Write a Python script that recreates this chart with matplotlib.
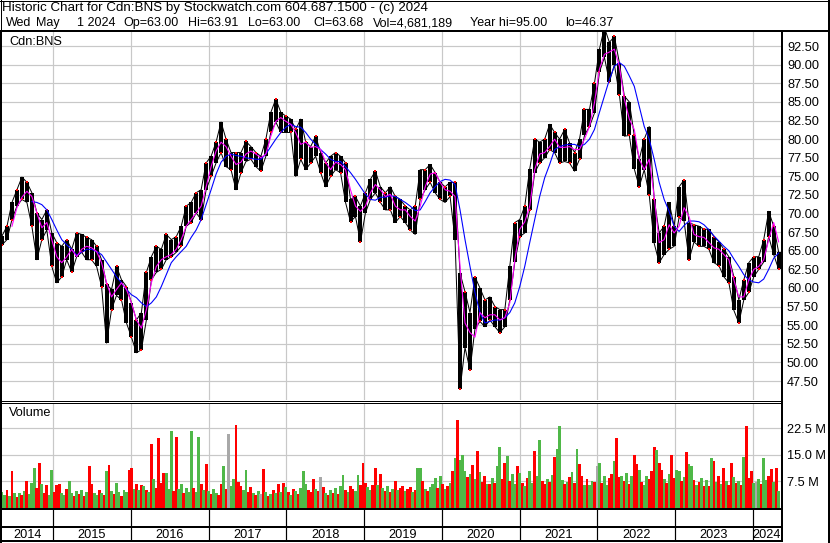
import matplotlib
matplotlib.use("Agg")
import matplotlib.pyplot as plt
from matplotlib.lines import Line2D
import numpy as np
import pandas as pd

plt.rcParams['font.family'] = ['Liberation Sans', 'DejaVu Sans']

W, H = 830, 543

# price samples, roughly every 3.5 weeks (high / low of the daily bars)
price_high = [
    67.0, 68.3, 71.5, 73.2, 74.9, 74.2, 72.8, 70.1, 69.2, 70.5,
    67.4, 66.1, 65.6, 66.5, 65.2, 67.4, 67.2, 66.8, 66.5, 65.6,
    63.8, 60.5, 59.8, 62.9, 61.1, 60.2, 58.0, 55.7, 56.7, 62.1,
    64.2, 65.6, 65.2, 67.2, 66.5, 66.9, 68.3, 71.0, 71.5, 72.8,
    73.2, 76.8, 77.7, 79.6, 82.3, 80.0, 78.2, 78.2, 78.2, 79.7,
    79.0, 78.2, 77.7, 80.0, 83.6, 85.4, 83.6, 83.1, 82.7, 81.3,
    82.7, 79.6, 79.0, 80.4, 78.2, 76.8, 77.7, 78.2, 77.7, 76.8,
    71.9, 72.3, 71.0, 72.8, 74.6, 75.7, 73.6, 72.8, 73.6, 72.3,
    71.9, 71.0, 70.5, 71.0, 75.9, 75.9, 76.6, 75.5, 74.2, 73.6,
    74.2, 74.2, 62.0, 59.5, 56.7, 61.5, 60.0, 58.4, 58.8, 57.5,
    57.1, 57.1, 63.0, 68.8, 69.2, 71.0, 76.0, 80.0, 79.6, 80.0,
    82.0, 80.9, 80.0, 81.3, 79.5, 78.2, 80.0, 84.0, 84.0, 87.5,
    92.1, 95.0, 93.0, 93.8, 90.3, 85.8, 85.0, 80.5, 77.3, 80.0,
    81.7, 72.0, 67.4, 68.3, 71.5, 68.3, 73.6, 74.5, 68.8, 68.5,
    68.3, 67.9, 67.9, 66.9, 66.2, 65.2, 64.2, 61.5, 58.4, 61.1,
    63.4, 64.2, 64.2, 66.5, 70.3, 68.3, 64.8,
]
price_low = [
    65.8, 66.5, 69.2, 71.0, 71.9, 71.5, 68.3, 63.8, 66.5, 67.8,
    62.9, 60.7, 61.5, 63.8, 62.1, 64.2, 64.8, 63.8, 63.8, 62.9,
    60.2, 52.6, 57.1, 59.0, 58.4, 55.3, 53.4, 51.3, 51.7, 55.7,
    61.1, 62.1, 62.5, 63.8, 64.2, 64.8, 65.6, 68.3, 68.8, 70.1,
    69.2, 73.2, 75.0, 76.8, 78.2, 76.3, 75.9, 73.2, 75.5, 77.0,
    77.3, 76.3, 75.7, 77.7, 80.9, 82.3, 80.9, 80.9, 80.9, 75.0,
    77.3, 75.9, 76.8, 77.7, 75.5, 73.6, 75.0, 75.9, 75.5, 71.5,
    68.9, 69.6, 66.2, 70.1, 71.9, 72.8, 71.5, 70.5, 70.5, 68.8,
    69.6, 68.8, 67.8, 67.2, 71.9, 73.2, 74.2, 72.8, 71.9, 71.5,
    72.3, 66.5, 46.4, 52.0, 49.0, 54.5, 55.5, 54.8, 55.7, 54.8,
    54.0, 54.8, 58.4, 63.5, 66.9, 67.4, 70.5, 75.5, 76.8, 77.5,
    78.6, 78.2, 76.8, 77.0, 76.8, 75.7, 77.3, 80.5, 81.7, 83.5,
    89.0, 91.0, 87.7, 90.0, 86.0, 80.4, 80.5, 76.0, 73.6, 75.9,
    72.5, 66.0, 63.4, 64.5, 65.2, 65.6, 69.5, 69.0, 63.8, 66.2,
    65.6, 65.6, 65.2, 63.4, 63.0, 61.5, 60.7, 57.0, 55.3, 58.4,
    59.4, 61.5, 62.5, 63.5, 66.9, 64.5, 62.5,
]

# magenta (short) moving average, starts a little after the first bar
ma_short = [
    68.3, 70.8, 72.2, 73.0, 72.3, 70.1, 68.1, 68.8, 66.5, 64.2,
    63.4, 64.2, 65.2, 64.2, 65.2, 65.6, 65.4, 64.9, 63.4, 60.7,
    58.8, 59.8, 60.7, 59.8, 58.0, 55.7, 54.6, 57.1, 60.7, 62.9,
    63.8, 64.2, 64.5, 65.2, 66.5, 68.3, 69.2, 70.1,
    71.0, 73.6, 76.3, 78.4, 79.6, 79.0, 77.7, 76.6, 76.9, 78.0,
    78.4, 78.0, 77.5, 78.0, 80.4, 82.4, 82.9, 82.4, 82.0, 80.9,
    79.3, 79.6, 78.9, 79.0, 78.6, 76.9, 75.9, 76.9, 76.6, 75.9,
    73.2, 71.0, 70.3, 71.0, 72.8, 73.9, 73.2, 72.3, 72.6,
    71.0, 70.5, 70.5, 69.6, 69.0, 71.0, 73.6, 75.3, 75.5, 74.2,
    73.2, 73.0, 72.3, 62.9, 55.3, 54.0, 53.4, 56.7, 56.0, 56.4,
    56.4, 55.7, 56.0, 58.0, 63.8, 67.9, 68.9, 71.0, 75.9, 78.0,
    78.2,
    79.0, 80.0, 78.9, 78.9, 79.0, 78.6, 78.6, 80.0, 81.7, 84.9,
    89.4, 91.4, 91.7, 92.1, 89.8, 85.4, 82.7, 81.3, 77.3, 75.9,
    77.3, 72.3, 66.1, 66.5, 68.5, 67.4, 68.3, 70.8, 69.6, 67.2,
    66.9, 66.8, 66.1, 65.4, 65.2, 64.5, 63.8, 61.1, 58.8, 58.8,
    61.1, 62.5, 62.9, 63.8, 66.5, 68.8, 66.2,
]

# blue (long) moving average
ma_long = [
    71.6, 71.5, 71.2, 70.5, 69.2, 67.8, 66.5, 65.8, 65.2, 64.4,
    64.8, 65.2, 65.2, 64.9, 64.5, 63.5, 62.5, 61.5, 60.7, 59.8,
    59.1, 58.7, 58.0, 57.5, 58.0, 58.8, 60.2, 61.8, 63.4, 64.2,
    64.9, 65.6, 66.8, 67.8, 69.2, 71.2, 73.2, 75.3, 76.9, 77.7,
    78.0, 77.8, 77.7, 77.5, 77.4, 77.3, 77.3, 78.0, 79.0, 80.0,
    80.9, 81.6, 82.0, 81.7, 81.6, 80.9, 80.0, 79.3, 78.6, 78.0,
    77.3, 77.0, 77.0, 76.3, 75.5, 74.6, 73.6, 72.6, 71.9, 71.8,
    72.2, 72.2, 72.4, 72.3, 71.9, 71.5, 71.0, 70.4, 70.5, 71.6,
    72.8, 73.6, 74.3, 74.6, 74.5, 73.9, 70.5, 66.5, 62.9, 59.4,
    56.7, 55.3, 55.5, 55.7, 55.7, 56.0, 56.7, 58.0, 60.2, 62.9,
    66.1, 69.2, 72.3, 74.8, 76.6, 78.6, 79.0, 79.2, 79.3, 79.3,
    79.0, 79.3, 80.0, 81.3, 83.6, 85.8, 88.0, 89.8, 90.3, 89.8,
    88.5, 87.1, 84.4, 81.7, 80.0, 77.3, 74.2, 71.9, 70.3, 68.3,
    67.6, 68.4, 69.0, 69.0, 68.9, 68.5, 67.8, 67.0, 66.3, 65.6,
    65.0, 63.9, 62.9, 61.8, 61.1, 60.8, 60.7, 61.2, 62.5, 64.0,
    64.7,
]

# daily volume, sampled (millions) and bar colours (r = down, g = up, k = unchanged)
volume = [
    4.5, 3.5, 5.0, 3.2, 10.3, 4.0, 3.0, 4.2, 3.6, 4.8, 7.5, 3.8, 7.0, 11.2, 5.5, 12.5, 6.6, 4.0, 6.5, 3.5, 10.6, 4.4, 6.4, 6.6, 4.0,
    3.6, 5.2, 7.5, 4.1, 3.3, 4.6, 3.9, 5.0, 3.4, 4.3, 11.7, 6.6, 4.0, 3.5, 5.1, 4.2, 3.6, 10.3, 12.0, 4.8, 3.9, 7.1, 4.4, 3.2, 5.0,
    4.5, 10.6, 11.1, 5.2, 6.8, 4.9, 6.4, 6.2, 5.0, 4.4, 18.0, 8.2, 5.6, 19.8, 7.1, 9.7, 9.9, 5.3, 21.6, 4.6, 19.9, 5.2, 6.6, 4.0, 5.5,
    4.3, 21.6, 5.6, 4.5, 19.9, 6.8, 5.0, 12.3, 4.6, 3.8, 5.2, 4.0, 3.6, 6.6, 11.7, 5.4, 20.7, 6.0, 8.2, 23.5, 7.3, 6.2, 5.1, 10.6, 4.5,
    5.8, 4.2, 3.6, 4.7, 3.9, 10.9, 4.4, 3.2, 3.9, 5.0, 4.1, 6.6, 4.4, 7.1, 5.9, 4.3, 3.7, 5.2, 4.6, 3.9, 5.5, 10.3, 6.8, 5.0, 4.4,
    8.1, 5.3, 4.6, 8.7, 5.8, 4.1, 3.5, 4.9, 4.2, 5.6, 3.8, 6.2, 9.3, 5.0, 4.4, 6.1, 5.2, 4.6, 9.3, 6.4, 12.5, 7.0, 5.8, 4.9, 6.3,
    11.1, 6.5, 9.4, 5.5, 4.8, 6.0, 4.4, 5.2, 7.5, 4.9, 5.6, 6.1, 4.7, 5.4, 5.8, 4.5, 5.0, 11.1, 11.1, 7.5, 5.3, 4.6, 5.8, 6.6, 8.5,
    5.5, 9.0, 6.6, 5.4, 6.2, 7.0, 10.3, 14.0, 24.8, 13.4, 14.8, 10.3, 8.7, 9.5, 12.0, 8.0, 15.9, 10.0, 7.2, 9.0, 6.8, 6.6, 8.4, 7.0, 11.8,
    17.2, 8.0, 12.5, 14.6, 7.6, 9.5, 6.8, 11.8, 9.7, 7.0, 6.2, 8.3, 10.3, 6.9, 15.9, 8.8, 19.1, 7.4, 6.6, 8.0, 7.3, 9.2, 14.4, 16.7, 23.0,
    7.8, 6.6, 7.3, 8.6, 10.0, 7.1, 16.7, 12.3, 9.0, 6.5, 8.1, 6.3, 7.6, 7.3, 11.8, 12.5, 7.0, 8.8, 6.4, 8.3, 9.6, 13.2, 19.8, 8.7, 9.0,
    7.5, 9.8, 6.8, 8.9, 15.0, 12.2, 10.6, 7.2, 6.4, 9.0, 8.2, 10.4, 17.2, 16.3, 12.5, 10.6, 8.0, 7.1, 9.5, 15.0, 8.4, 10.6, 10.3, 7.5, 8.7,
    15.6, 12.2, 11.8, 7.8, 6.4, 7.3, 8.5, 6.2, 7.7, 6.0, 14.1, 13.1, 7.2, 9.0, 6.6, 11.3, 7.4, 6.3, 12.5, 8.7, 6.9, 7.6, 6.5, 14.4, 23.0,
    8.4, 10.3, 7.0, 7.3, 8.2, 6.6, 14.1, 7.9, 9.0, 10.9, 7.2, 11.3, 4.6,
]
vol_colors = (
    "ggrgrgrgrgrgggrrgrrggrrrg"
    "grggrgrgrgrrggrgrgrgrggrg"
    "grrgrgrgrgrgrrrrgggrrggrg"
    "ggrggrgrgrggrrgrkggrrrggr"
    "rgrgkrgrgrgrgrgrgrgrgggrr"
    "rgrkrgrgrgrggrgrrggrrrggr"
    "rgrgrgrgrgrrgrrgrggrgrggg"
    "rgrgrgrgrgggrgrgrgrrgrgrg"
    "grrgrggrgrgrggrggrrgrgrgg"
    "grgrgrgrrgrggrkgrggrrgrrg"
    "rgrgrrgrggrrrgrrgrgrrggrg"
    "rggrgrgrgrgrgrgrgrrgrgrgr"
    "rrgkgrggrrgrg"
)

price_ticks = [47.5 + 2.5 * i for i in range(19)]
vol_ticks = [7.5, 15.0, 22.5]
year_labels = [str(y) for y in range(2014, 2025)]

title = "Historic Chart for Cdn:BNS by Stockwatch.com 604.687.1500 - (c) 2024"
quote_fields = ["Wed", "May", "1 2024", "Op=63.00", "Hi=63.91", "Lo=63.00",
                "Cl=63.68", "Vol=4,681,189", "Year hi=95.00", "lo=46.37"]
quote_x = [6, 36, 77, 123, 188, 248, 313, 373, 470, 565]

start, end = pd.Timestamp("2014-05-06"), pd.Timestamp("2024-05-01")
x_lo, x_hi = pd.Timestamp("2014-05-06"), pd.Timestamp("2024-05-12")
dates = pd.date_range(start, end, periods=len(price_high))
vdates = pd.date_range(start, end, periods=len(volume))
short_vals = [np.nan] * (len(dates) - len(ma_short)) + ma_short
long_vals = [np.nan] * (len(dates) - len(ma_long)) + ma_long
year_edges = [pd.Timestamp(f"{y}-01-01") for y in range(2015, 2025)]

GRID = "#c8c8c8"
RED, GREEN, GREY = "#ff0000", "#4fb848", "#a8a8a8"
PX = 72 / 100  # one pixel in points


def rect(x0, y0, x1, y1):
    return [x0 / W, 1 - y1 / H, (x1 - x0) / W, (y1 - y0) / H]


def fline(xs, ys, lw=1):
    fig.add_artist(Line2D([x / W for x in xs], [1 - y / H for y in ys],
                          transform=fig.transFigure, color="black", lw=lw * PX))


fig = plt.figure(figsize=(W / 100, H / 100), dpi=100)
fig.patch.set_facecolor("white")

# ---- price panel
ax = fig.add_axes(rect(2, 32, 781, 400))
ax.vlines(dates, price_low, price_high, color="black", lw=4.0 * PX, zorder=3)
ax.plot(dates, price_high, color="black", lw=1 * PX, zorder=3)
ax.plot(dates, price_low, color="black", lw=1 * PX, zorder=3)
ax.plot(dates[::2], np.array(price_low)[::2], "s", color=RED, ms=1.6, mew=0, zorder=4)
ax.plot(dates[1::2], np.array(price_high)[1::2], "s", color=RED, ms=1.6, mew=0, zorder=4)
ax.plot(dates, long_vals, color="#0000ff", lw=1.1 * PX, zorder=5)
ax.plot(dates, short_vals, color="#ff00ff", lw=1.1 * PX, zorder=6)
ax.set_xlim(x_lo, x_hi)
ax.set_ylim(44.95, 94.4)
ax.set_yticks(price_ticks)
ax.set_yticklabels([f"{v:.2f}" for v in price_ticks])
ax.yaxis.tick_right()
ax.tick_params(axis="y", length=0, pad=6 * PX, labelsize=9.2)
ax.set_xticks(year_edges)
ax.tick_params(axis="x", length=0, labelbottom=False)
ax.grid(True, color=GRID, lw=1.2 * PX)
ax.set_axisbelow(True)
for s in ax.spines.values():
    s.set_visible(False)
ax.text(7 / 779, 1 - 10 / 368, "Cdn:BNS", transform=ax.transAxes, fontsize=9.2, va="center")

# ---- volume panel
av = fig.add_axes(rect(2, 403, 781, 509))
cmap = {"r": RED, "g": GREEN, "k": GREY}
span = (end - start) / (len(volume) - 1)
av.bar(vdates, volume, width=span * 1.15, color=[cmap[c] for c in vol_colors],
       lw=0, antialiased=False, zorder=3)
av.set_xlim(x_lo, x_hi)
av.set_ylim(-0.4, 29.6)
av.set_yticks(vol_ticks)
av.set_yticklabels([f"{v:.1f} M" for v in vol_ticks])
av.yaxis.tick_right()
av.tick_params(axis="y", length=0, pad=6 * PX, labelsize=9.2)
av.set_xticks(year_edges)
av.tick_params(axis="x", length=0, labelbottom=False)
av.grid(True, color=GRID, lw=1.2 * PX)
av.set_axisbelow(True)
for s in av.spines.values():
    s.set_visible(False)
av.text(7 / 779, 1 - 10 / 106, "Volume", transform=av.transAxes, fontsize=9.2, va="center")

# ---- date strip
ad = fig.add_axes(rect(2, 509, 781, 541))
ad.set_xlim(x_lo, x_hi)
ad.set_ylim(0, 1)
ad.axis("off")
for e in year_edges:
    ad.axvline(e, color="black", lw=1.2 * PX)
bounds = [x_lo] + year_edges + [x_hi]
for lab, a, b in zip(year_labels, bounds[:-1], bounds[1:]):
    ad.text(a + (b - a) / 2, 0.2, lab, ha="center", va="center", fontsize=9.2)

# ---- frame lines
fline([0, 830], [0.5, 0.5], 1)
fline([0, 830], [31, 31], 2)
fline([0.5, 0.5], [0, 31], 1)
fline([1, 1], [31, 543], 2)
fline([781.5, 781.5], [31, 541], 2)
fline([828.5, 828.5], [0, 543], 2)
fline([0, 782], [400.5, 400.5], 1)
fline([0, 782], [402.5, 402.5], 1)
fline([0, 782], [509, 509], 2)
fline([0, 782], [527, 527], 2)
fline([0, 782], [541, 541], 2)

# ---- header
fig.text(2 / W, 1 - 8.5 / H, title, fontsize=9.6, va="center")
for txt, xp in zip(quote_fields, quote_x):
    fig.text(xp / W, 1 - 23 / H, txt, fontsize=9.0, va="center")

fig.savefig("out.png", dpi=100)
